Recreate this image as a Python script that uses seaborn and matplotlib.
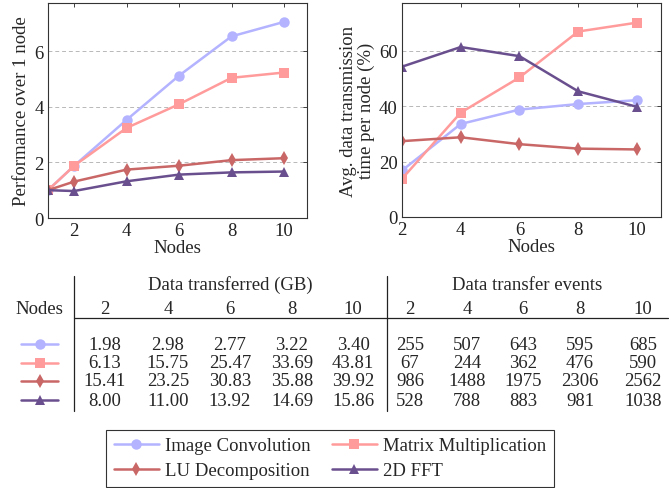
import matplotlib
matplotlib.use("Agg")
import matplotlib.pyplot as plt
import seaborn as sns
import pandas as pd

# ---------------- data ----------------
series_names = ["Image Convolution", "Matrix Multiplication", "LU Decomposition", "2D FFT"]
series_markers = ["o", "s", "d", "^"]
series_colors = ["#b3b3ff", "#ff9b9b", "#c96767", "#6a4f8e"]

nodes_perf = [1, 2, 4, 6, 8, 10]
perf_image = [1.0, 1.88, 3.53, 5.12, 6.53, 7.05]
perf_matrix = [1.0, 1.88, 3.24, 4.09, 5.04, 5.23]
perf_lu = [1.0, 1.31, 1.74, 1.88, 2.08, 2.15]
perf_fft = [1.0, 0.97, 1.32, 1.56, 1.64, 1.67]

nodes_tx = [2, 4, 6, 8, 10]
tx_image = [16.8, 33.6, 38.8, 40.8, 42.2]
tx_matrix = [13.8, 37.7, 50.4, 67.0, 70.2]
tx_lu = [27.4, 28.8, 26.3, 24.7, 24.4]
tx_fft = [54.3, 61.4, 58.1, 45.4, 39.8]

table_nodes = ["2", "4", "6", "8", "10"]
gb_image = ["1.98", "2.98", "2.77", "3.22", "3.40"]
gb_matrix = ["6.13", "15.75", "25.47", "33.69", "43.81"]
gb_lu = ["15.41", "23.25", "30.83", "35.88", "39.92"]
gb_fft = ["8.00", "11.00", "13.92", "14.69", "15.86"]
ev_image = ["255", "507", "643", "595", "685"]
ev_matrix = ["67", "244", "362", "476", "590"]
ev_lu = ["986", "1488", "1975", "2306", "2562"]
ev_fft = ["528", "788", "883", "981", "1038"]

# ---------------- style ----------------
sns.set_theme(style="white")
plt.rcParams["font.family"] = ["Liberation Serif", "DejaVu Serif"]
FS = 13.5

W, H = 669, 489
fig = plt.figure(figsize=(W / 100, H / 100), dpi=100)

def px_axes(l, t, r, b):
    return fig.add_axes([l / W, 1 - b / H, (r - l) / W, (b - t) / H])

palette = dict(zip(series_names, series_colors))
markers = dict(zip(series_names, series_markers))

perf_df = pd.DataFrame({
    "Nodes": nodes_perf * 4,
    "value": perf_image + perf_matrix + perf_lu + perf_fft,
    "series": sum([[s] * len(nodes_perf) for s in series_names], []),
})
tx_df = pd.DataFrame({
    "Nodes": nodes_tx * 4,
    "value": tx_image + tx_matrix + tx_lu + tx_fft,
    "series": sum([[s] * len(nodes_tx) for s in series_names], []),
})

ax1 = px_axes(48, 4, 307, 219)
ax2 = px_axes(402, 4, 661, 218)

for ax, df in ((ax1, perf_df), (ax2, tx_df)):
    sns.lineplot(data=df, x="Nodes", y="value", hue="series", style="series",
                 hue_order=series_names, style_order=series_names,
                 palette=palette, markers=markers, dashes=False,
                 linewidth=1.8, markersize=7.5, markeredgewidth=0, ax=ax)
    ax.grid(axis="y", color="#b8b8b8", linestyle=(0, (4, 3)), linewidth=0.7)
    ax.set_xticks([2, 4, 6, 8, 10])
    ax.tick_params(direction="in", length=3, width=0.6, labelsize=FS,
                   top=True, right=True, pad=3, colors="#222222")
    for sp in ax.spines.values():
        sp.set_color("#333333")
        sp.set_linewidth(0.8)
    ax.set_xlabel("Nodes", fontsize=FS, labelpad=0)

handles, labels = ax1.get_legend_handles_labels()
ax1.get_legend().remove()
ax2.get_legend().remove()

ax1.set_xlim(1, 10.88)
ax1.set_ylim(0, 7.73)
ax1.set_yticks([0, 2, 4, 6])
ax1.set_ylabel("Performance over 1 node", fontsize=FS, labelpad=3)

ax2.set_xlim(2, 10.82)
ax2.set_ylim(0, 77.3)
ax2.set_yticks([0, 20, 40, 60])
ax2.set_ylabel("Avg. data transmission\ntime per node (%)", fontsize=FS,
               labelpad=3, linespacing=1.05)

# ---------------- table ----------------
axt = fig.add_axes([0, 0, 1, 1], zorder=-1)
axt.set_xlim(0, W)
axt.set_ylim(H, 0)
axt.axis("off")

gb_cols = [105, 168, 230, 292, 353]
ev_cols = [410, 467, 523, 580, 643]
row_y = [345, 364, 382, 401]

axt.plot([74, 74], [277, 412], color="#222222", lw=0.9)
axt.plot([387, 387], [277, 412], color="#222222", lw=0.9)
axt.plot([74, 668], [319, 319], color="#222222", lw=0.9)

axt.text(230, 285, "Data transferred (GB)", ha="center", va="center", fontsize=FS)
axt.text(527, 285, "Data transfer events", ha="center", va="center", fontsize=FS)
axt.text(39.5, 309, "Nodes", ha="center", va="center", fontsize=FS)
for cx, lab in zip(gb_cols, table_nodes):
    axt.text(cx, 309, lab, ha="center", va="center", fontsize=FS)
for cx, lab in zip(ev_cols, table_nodes):
    axt.text(cx, 309, lab, ha="center", va="center", fontsize=FS)

gb_rows = [gb_image, gb_matrix, gb_lu, gb_fft]
ev_rows = [ev_image, ev_matrix, ev_lu, ev_fft]
for i, y in enumerate(row_y):
    axt.plot([21, 58], [y, y], color=series_colors[i], lw=1.8)
    axt.plot([40], [y], color=series_colors[i], marker=series_markers[i],
             markersize=7.5, markeredgewidth=0)
    for cx, v in zip(gb_cols, gb_rows[i]):
        axt.text(cx, y, v, ha="center", va="center", fontsize=FS)
    for cx, v in zip(ev_cols, ev_rows[i]):
        axt.text(cx, y, v, ha="center", va="center", fontsize=FS)

# ---------------- legend ----------------
order = [0, 2, 1, 3]
leg = fig.legend([handles[i] for i in order], [labels[i] for i in order],
                 ncol=2, loc="lower center",
                 bbox_to_anchor=(330 / W, 1.0 / H), borderaxespad=0,
                 fontsize=FS, frameon=True,
                 fancybox=False, edgecolor="#333333", framealpha=1,
                 handlelength=2.4, handletextpad=0.35, columnspacing=1.1,
                 labelspacing=0.42, borderpad=0.4)
leg.get_frame().set_linewidth(0.8)

fig.savefig("out.png", dpi=100)
